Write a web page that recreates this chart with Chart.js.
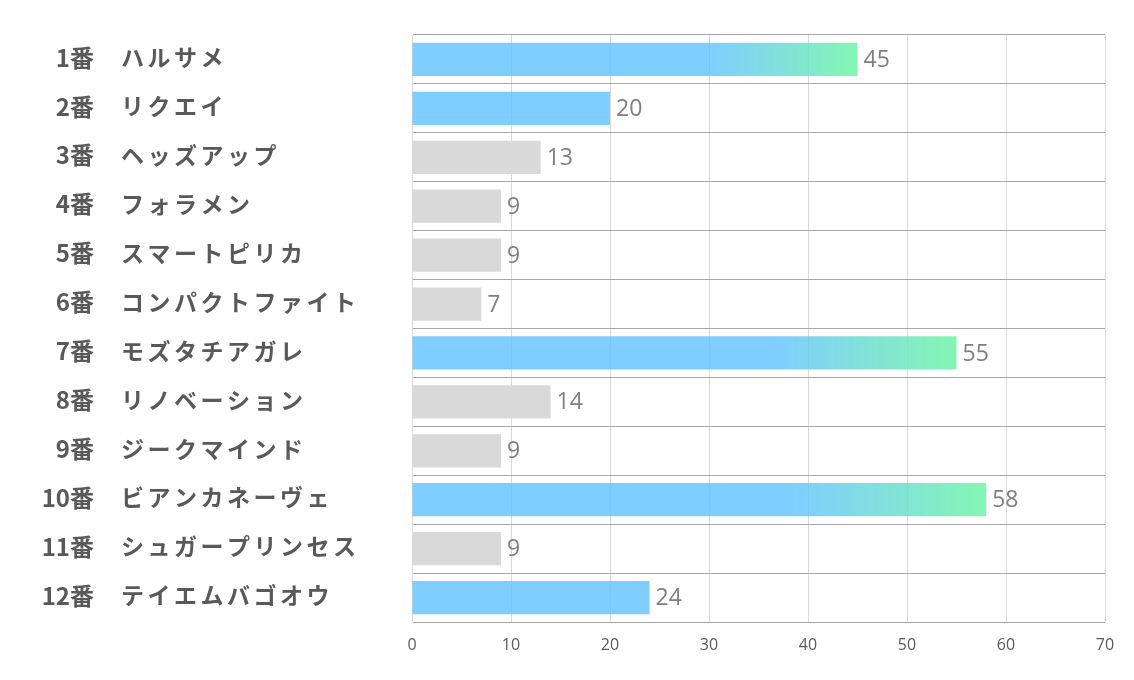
<!DOCTYPE html>
<html>
<head>
<meta charset="utf-8">
<script src="https://cdn.jsdelivr.net/npm/chart.js@4"></script>
<style>
  html, body { margin: 0; padding: 0; background: #fff; }
  #wrap { width: 1134px; height: 680px; }
</style>
</head>
<body>
<div id="wrap"><canvas id="chart"></canvas></div>
<script>
// Données du graphique
const numbers = ["1番", "2番", "3番", "4番", "5番", "6番", "7番", "8番", "9番", "10番", "11番", "12番"];
const horses = ["ハルサメ", "リクエイ", "ヘッズアップ", "フォラメン", "スマートピリカ", "コンパクトファイト",
    "モズタチアガレ", "リノベーション", "ジークマインド", "ビアンカネーヴェ", "シュガープリンセス", "テイエムバゴオウ"];
const values = [45, 20, 13, 9, 9, 7, 55, 14, 9, 58, 9, 24];
// 'g' = dégradé, 'b' = bleu, 'n' = gris
const kinds = ["g", "b", "n", "n", "n", "n", "g", "n", "n", "g", "n", "b"];
const xTicks = [0, 10, 20, 30, 40, 50, 60, 70];

const BLUE = "rgba(96,193,255,0.8)";
const GREEN = "rgba(110,245,165,0.85)";
const GRAY = "#D9D9D9";

// Couleur de chaque barre
function barColor(ctx) {
    const kind = kinds[ctx.dataIndex];
    if (kind === "n") return GRAY;
    if (kind === "b") return BLUE;
    const x = ctx.chart.scales.x;
    if (!x || !ctx.chart.chartArea) return BLUE;
    const x0 = x.getPixelForValue(0);
    const x1 = x.getPixelForValue(values[ctx.dataIndex]);
    const grad = ctx.chart.ctx.createLinearGradient(x0, 0, x1, 0);
    grad.addColorStop(0, BLUE);
    grad.addColorStop(0.66, BLUE);
    grad.addColorStop(1, GREEN);
    return grad;
}

// Libellés de gauche (numéro + nom) et valeurs à droite des barres
const labelsPlugin = {
    id: 'labels',
    afterDatasetsDraw(chart) {
        const ctx = chart.ctx;
        const y = chart.scales.y;
        ctx.save();
        ctx.fillStyle = "#595959";
        ctx.textBaseline = "middle";
        numbers.forEach((n, i) => {
            const py = y.getPixelForValue(i) - 2;
            ctx.font = "bold 24px 'Noto Sans CJK JP'";
            ctx.letterSpacing = "0px";
            ctx.textAlign = "right";
            ctx.fillText(n, 94, py);
            ctx.font = "bold 23px 'Noto Sans CJK JP'";
            ctx.letterSpacing = "3.5px";
            ctx.textAlign = "left";
            ctx.fillText(horses[i], 121, py);
        });
        ctx.letterSpacing = "0px";
        ctx.fillStyle = "#7F7F7F";
        ctx.font = "23px 'Open Sans'";
        ctx.textAlign = "left";
        const meta = chart.getDatasetMeta(0);
        meta.data.forEach((bar, i) => {
            ctx.fillText(String(values[i]), bar.x + 6, bar.y + 1);
        });
        ctx.restore();
    }
};

new Chart(document.getElementById("chart"), {
    type: 'bar',
    data: {
        labels: horses,
        datasets: [{
            data: values,
            backgroundColor: barColor,
            borderWidth: 0,
            barPercentage: 0.68,
            categoryPercentage: 1
        }]
    },
    options: {
        indexAxis: 'y',
        responsive: true,
        maintainAspectRatio: false,
        animation: false,
        layout: { padding: { top: 35, right: 29, left: 0, bottom: 0 } },
        plugins: {
            legend: { display: false },
            tooltip: { enabled: false }
        },
        scales: {
            x: {
                min: 0,
                max: 70,
                afterBuildTicks: s => { s.ticks = xTicks.map(v => ({ value: v })); },
                afterFit: s => { s.height = 58; },
                grid: { color: "#D9D9D9", drawTicks: false },
                border: { display: false },
                ticks: {
                    color: "#595959",
                    padding: 14,
                    font: { family: "'Liberation Sans Narrow', 'Open Sans'", size: 16 }
                }
            },
            y: {
                afterFit: s => { s.width = 412; },
                grid: { color: "#A6A6A6", offset: true, drawTicks: false },
                border: { color: "#D9D9D9" },
                ticks: { display: false }
            }
        }
    },
    plugins: [labelsPlugin]
});
</script>
</body>
</html>
